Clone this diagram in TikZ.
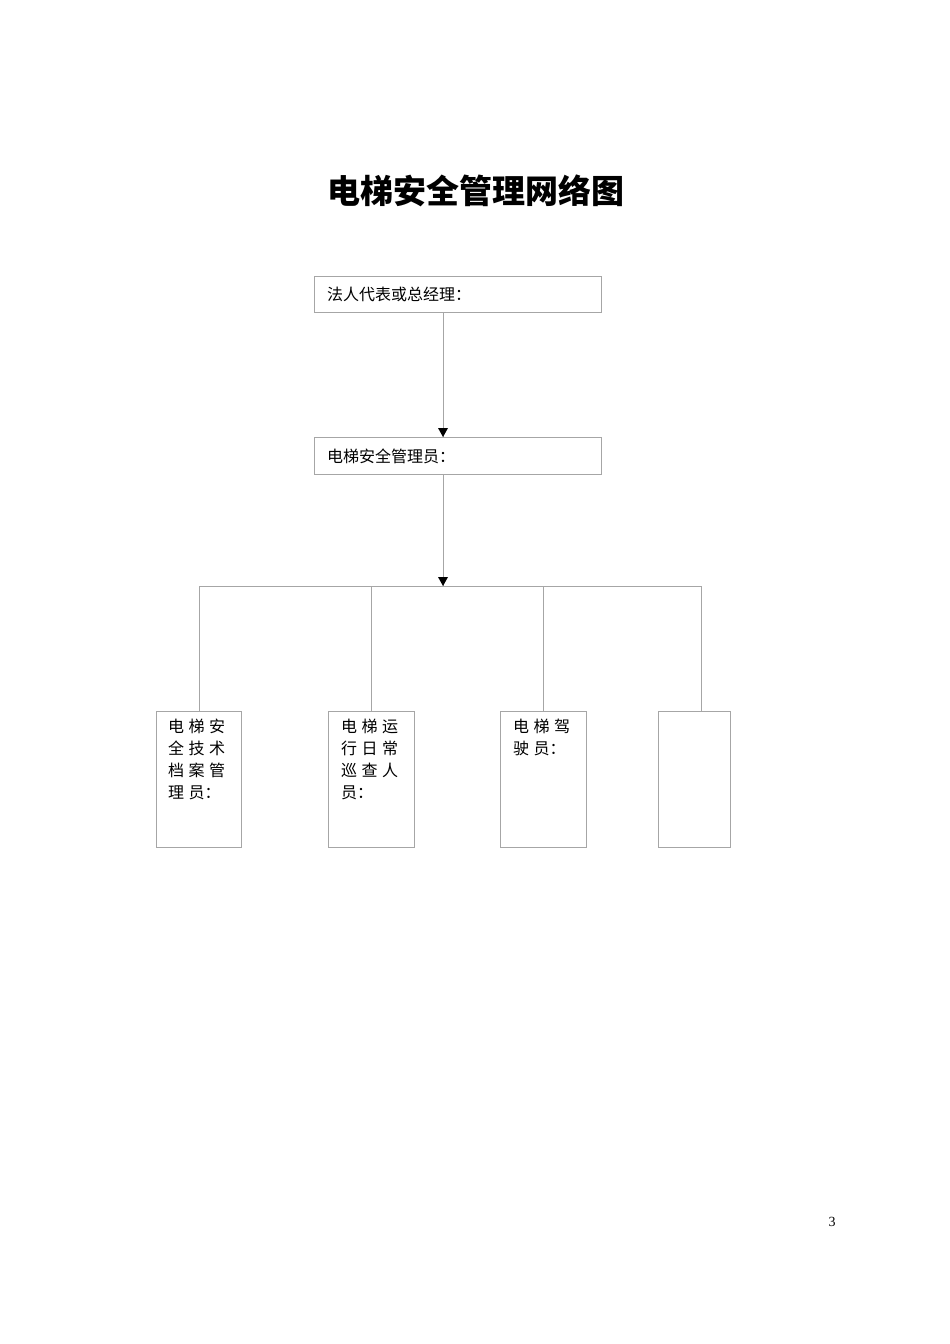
\documentclass[tikz,border=0pt]{standalone}
\usepackage{fontspec}
\newfontfamily\cjk{Noto Sans CJK SC}
\setmainfont{Liberation Serif}
\begin{document}
\begin{tikzpicture}[x=1pt,y=-1pt,
  box/.style={draw=black!35,line width=0.8pt},
  ln/.style={draw=black!35,line width=0.8pt},
  arr/.style={-{Latex[length=9pt,width=8pt]},draw=black!35,line width=0.8pt},
  txt/.style={font=\cjk\fontsize{16}{22}\selectfont,inner sep=0pt,anchor=north west,align=left}]
\useasboundingbox (0,0) rectangle (950,1344);
\node[font=\cjk\bfseries\fontsize{33}{36}\selectfont] (title) at (476,191) {电梯安全管理网络图};
\draw[box] (314,276) rectangle (601,312);
\node (b1) at (457.5,294) [minimum width=287pt,minimum height=36pt] {};
\node[txt,anchor=west] (t1) at (327,294) {法人代表或总经理：};
\draw[box] (314,437) rectangle (601,474);
\node (b2) at (457.5,455.5) [minimum width=287pt,minimum height=37pt] {};
\node[txt,anchor=west] (t2) at (327,456) {电梯安全管理员：};
\coordinate (a1) at (443,312); \coordinate (a2) at (443,437);
\coordinate (a3) at (443,474); \coordinate (a4) at (443,586);
\draw[ln] (a1) -- (a2); \fill (438,428) -- (448,428) -- (443,437) -- cycle;
\draw[ln] (a3) -- (a4); \fill (438,577) -- (448,577) -- (443,586) -- cycle;
\draw[ln] (199,586) -- (701,586);
\foreach \x in {199,371,543,701} \draw[ln] (\x,586) -- (\x,711);
\draw[box] (156,711) rectangle (241,847);
\draw[box] (328,711) rectangle (414,847);
\draw[box] (500,711) rectangle (586,847);
\draw[box] (658,711) rectangle (730,847);
\def\g{\hspace{4.5pt}}
\node[txt] (c1) at (168,719) {电\g 梯\g 安\\全\g 技\g 术\\档\g 案\g 管\\理\g 员：};
\node[txt] (c2) at (341,719) {电\g 梯\g 运\\行\g 日\g 常\\巡\g 查\g 人\\员：};
\node[txt] (c3) at (513,719) {电\g 梯\g 驾\\驶\g 员：};
\node[font=\fontsize{14}{16}\selectfont] (pg) at (832,1222) {3};
\end{tikzpicture}
\end{document}
